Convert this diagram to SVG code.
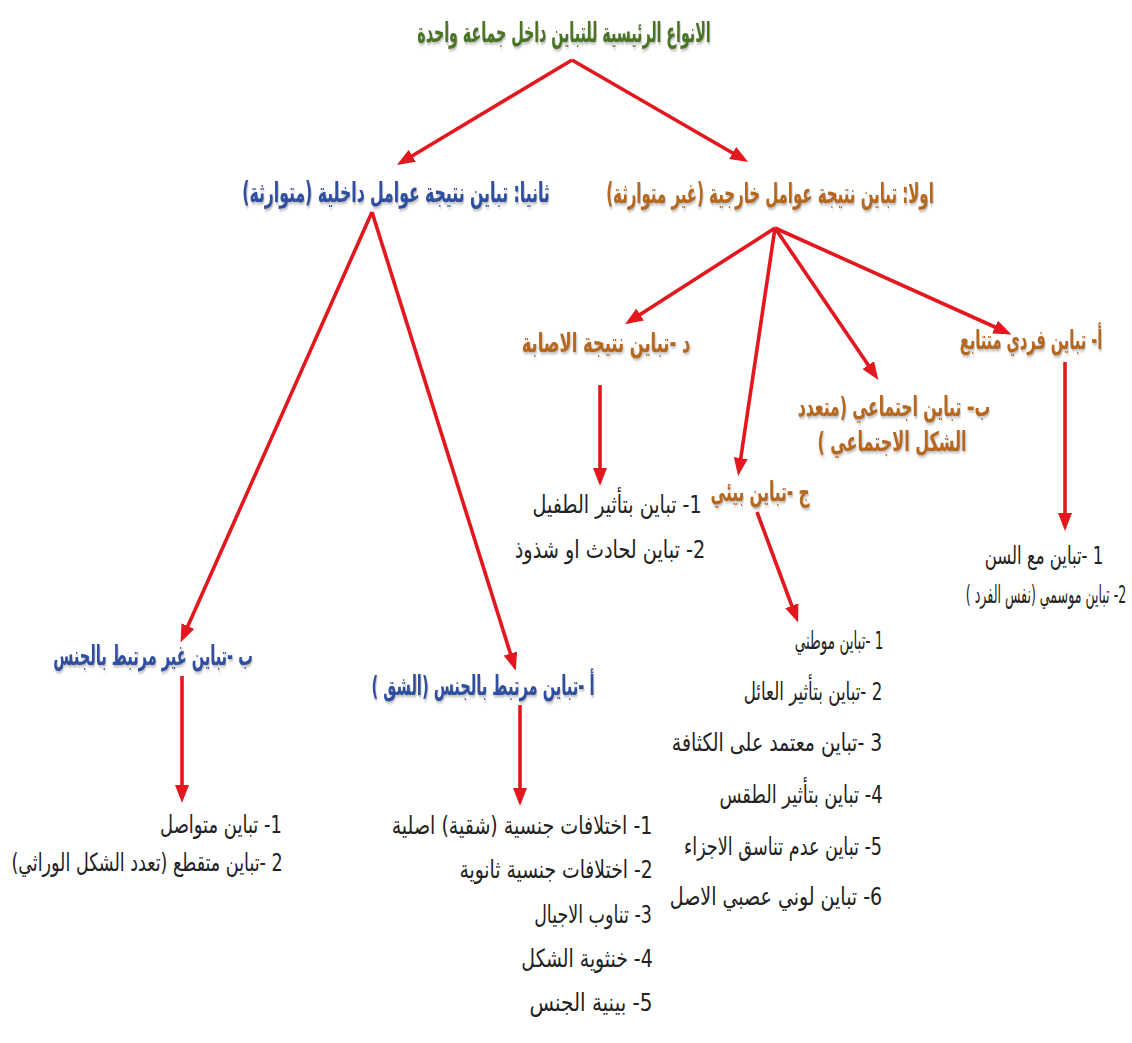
<svg xmlns="http://www.w3.org/2000/svg" width="1132" height="1043" viewBox="0 0 1132 1043">
<defs>
<style>
.t{font-family:"DejaVu Sans","Liberation Sans",sans-serif;text-anchor:middle;direction:rtl;font-size:20px}
.h{font-weight:bold;filter:url(#sh)}
.s{font-weight:bold;filter:url(#sh)}
.l{fill:#222}
.g{fill:#4a7421}
.b{fill:#2f4f9f}
.o{fill:#b5671f}
.c{stroke:#e3171e;stroke-width:3.6;fill:none;marker-end:url(#ah)}
</style>
<filter id="sh" x="-20%" y="-50%" width="140%" height="200%">
<feDropShadow dx="1" dy="1.5" stdDeviation="1" flood-color="#777" flood-opacity="0.55"/>
</filter>
<marker id="ah" markerUnits="userSpaceOnUse" markerWidth="18" markerHeight="14" refX="12" refY="7" orient="auto">
<path d="M0,0 L18,7 L0,14 z" fill="#e3171e"/>
</marker>
</defs>
<rect width="1132" height="1043" fill="#fff"/>
<g id="connectors">
<line class="c" x1="572" y1="60" x2="402" y2="162"/>
<line class="c" x1="572" y1="60" x2="743" y2="159"/>
<line class="c" x1="775" y1="228" x2="630" y2="321"/>
<line class="c" x1="775" y1="228" x2="739" y2="470"/>
<line class="c" x1="775" y1="228" x2="875" y2="375"/>
<line class="c" x1="775" y1="228" x2="1006" y2="332"/>
<line class="c" x1="1065" y1="362" x2="1065" y2="525"/>
<line class="c" x1="600" y1="385" x2="600" y2="480"/>
<line class="c" x1="757" y1="512" x2="796" y2="617"/>
<line class="c" x1="372" y1="212" x2="183" y2="637"/>
<line class="c" x1="372" y1="212" x2="514" y2="665"/>
<line class="c" x1="182" y1="676" x2="182" y2="797"/>
<line class="c" x1="520" y1="705" x2="520" y2="800"/>
</g>
<g id="title"><text class="t h g" transform="matrix(0.711,0,0,1.4,564,42)">الانواع الرئيسية للتباين داخل جماعة واحدة</text></g>
<g id="internal"><text class="t h b" transform="matrix(0.783,0,0,1.4,396,202)">ثانيا: تباين نتيجة عوامل داخلية (متوارثة)</text></g>
<g id="external"><text class="t h o" transform="matrix(0.748,0,0,1.4,770,203)">اولا: تباين نتيجة عوامل خارجية (غير متوارثة)</text></g>
<g id="infection"><text class="t s o" transform="matrix(0.816,0,0,1.35,606,352)">د -تباين نتيجة الاصابة</text></g>
<g id="individual"><text class="t s o" transform="matrix(0.726,0,0,1.35,1031,349)">أ- تباين فردي متتابع</text></g>
<g id="social">
<text class="t s o" transform="matrix(0.78,0,0,1.35,894,416)">ب– تباين اجتماعي (متعدد</text>
<text class="t s o" transform="matrix(0.8,0,0,1.35,892,451)">الشكل الاجتماعي )</text>
</g>
<g id="environmental"><text class="t s o" transform="matrix(0.766,0,0,1.35,760,501)">ج -تباين بيئي</text></g>
<g id="nonsex"><text class="t s b" transform="matrix(0.727,0,0,1.35,153,665)">ب -تباين غير مرتبط بالجنس</text></g>
<g id="sexlinked"><text class="t s b" transform="matrix(0.731,0,0,1.35,483,695)">أ -تباين مرتبط بالجنس (الشق )</text></g>
<g id="list-individual">
<text class="t l" transform="matrix(0.825,0,0,1.25,1044,564)">1 -تباين مع السن</text>
<text class="t l" transform="matrix(0.63,0,0,1.25,1046,603)">2- تباين موسمي (نفس الفرد )</text>
</g>
<g id="list-infection">
<text class="t l" transform="matrix(0.955,0,0,1.25,617,513)">1- تباين بتأثير الطفيل</text>
<text class="t l" transform="matrix(0.964,0,0,1.25,610,558)">2- تباين لحادث او شذوذ</text>
</g>
<g id="list-environmental">
<text class="t l" transform="matrix(0.677,0,0,1.25,839,649)">1 -تباين موطني</text>
<text class="t l" transform="matrix(0.836,0,0,1.25,813,700)">2 -تباين بتأثير العائل</text>
<text class="t l" transform="matrix(0.946,0,0,1.25,777,751)">3 -تباين معتمد على الكثافة</text>
<text class="t l" transform="matrix(0.9,0,0,1.25,801,803)">4- تباين بتأثير الطقس</text>
<text class="t l" transform="matrix(0.88,0,0,1.25,783,855)">5- تباين عدم تناسق الاجزاء</text>
<text class="t l" transform="matrix(0.95,0,0,1.25,776,905)">6- تباين لوني عصبي الاصل</text>
</g>
<g id="list-nonsex">
<text class="t l" transform="matrix(0.897,0,0,1.25,221,833)">1- تباين متواصل</text>
<text class="t l" transform="matrix(0.877,0,0,1.25,147,871)">2 -تباين متقطع (تعدد الشكل الوراثي)</text>
</g>
<g id="list-sexlinked">
<text class="t l" transform="matrix(0.952,0,0,1.25,522,834)">1- اختلافات جنسية (شقية) اصلية</text>
<text class="t l" transform="matrix(0.937,0,0,1.25,556,878)">2- اختلافات جنسية ثانوية</text>
<text class="t l" transform="matrix(0.873,0,0,1.25,593,923)">3- تناوب الاجيال</text>
<text class="t l" transform="matrix(0.942,0,0,1.25,587,967)">4- خنثوية الشكل</text>
<text class="t l" transform="matrix(1,0,0,1.25,591,1011)">5- بينية الجنس</text>
</g>
</svg>
